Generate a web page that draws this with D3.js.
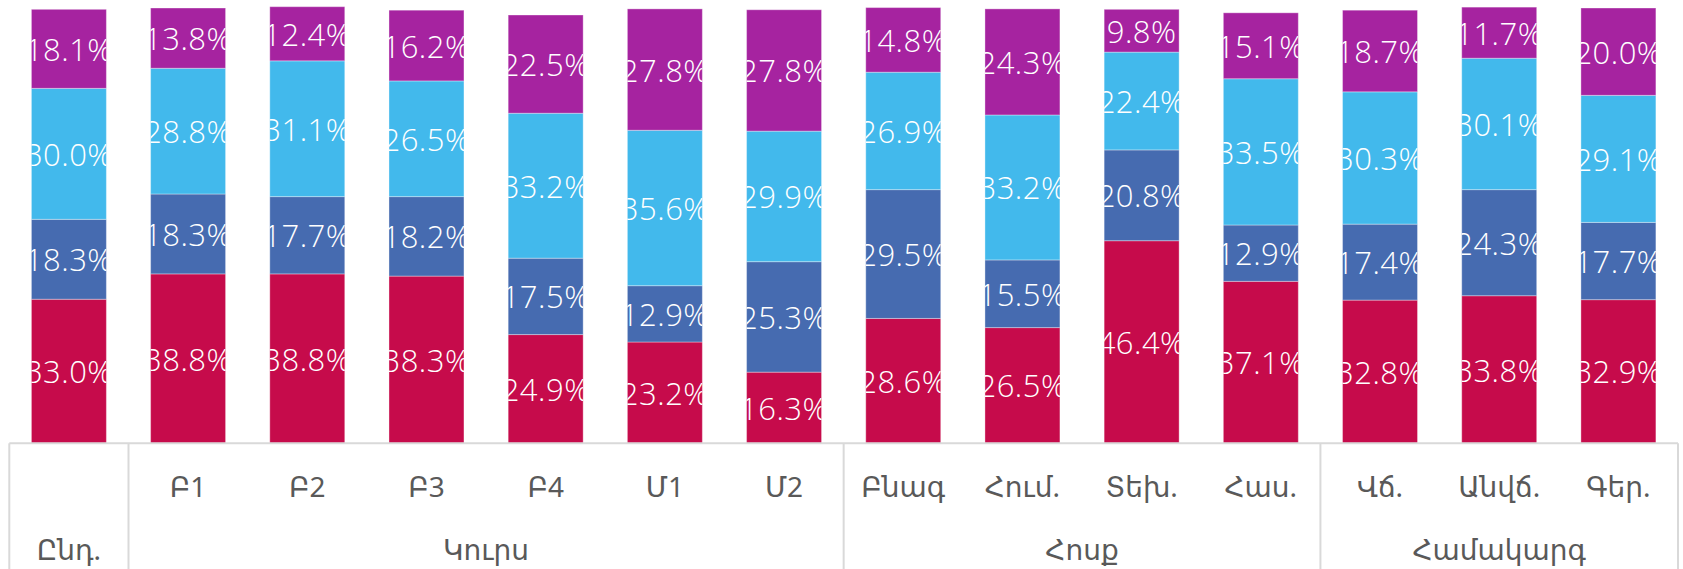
<!DOCTYPE html>
<html>
<head>
<meta charset="utf-8">
<script src="https://cdn.jsdelivr.net/npm/d3@7"></script>
<style>
  html, body { margin: 0; padding: 0; background: #ffffff; }
  svg { display: block; }
</style>
</head>
<body>
<svg id="chart" width="1683" height="569"></svg>
<script>
const categories = ["Ընդ.", "Բ1", "Բ2", "Բ3", "Բ4", "Մ1", "Մ2", "Բնագ", "Հում.", "Տեխ.", "Հաս.", "Վճ.", "Անվճ.", "Գեր."];
const groups = [
  { name: "", from: 0, to: 0 },
  { name: "Կուրս", from: 1, to: 6 },
  { name: "Հոսք", from: 7, to: 10 },
  { name: "Համակարգ", from: 11, to: 13 }
];
const groupTopLabel = "Ընդ.";
const seriesNames = ["s1", "s2", "s3", "s4"];
const s1 = [33.0, 38.8, 38.8, 38.3, 24.9, 23.2, 16.3, 28.6, 26.5, 46.4, 37.1, 32.8, 33.8, 32.9];
const s2 = [18.3, 18.3, 17.7, 18.2, 17.5, 12.9, 25.3, 29.5, 15.5, 20.8, 12.9, 17.4, 24.3, 17.7];
const s3 = [30.0, 28.8, 31.1, 26.5, 33.2, 35.6, 29.9, 26.9, 33.2, 22.4, 33.5, 30.3, 30.1, 29.1];
const s4 = [18.1, 13.8, 12.4, 16.2, 22.5, 27.8, 27.8, 14.8, 24.3, 9.8, 15.1, 18.7, 11.7, 20.0];
const colors = ["#C60B4B", "#466BB0", "#42B9EC", "#A623A0"];

const W = 1683, H = 569;
const left = 9.3, right = 1678, axisY = 443.3, topY = 6.7;

const rows = categories.map((c, i) => ({ cat: c, s1: s1[i], s2: s2[i], s3: s3[i], s4: s4[i] }));
const stack = d3.stack().keys(seriesNames)(rows);

const x = d3.scaleBand().domain(categories).range([left, right]).paddingInner(0.371).paddingOuter(0.1855);
const y = d3.scaleLinear().domain([0, 100]).range([axisY, topY]);

const svg = d3.select("#chart");
const defs = svg.append("defs");
categories.forEach((c, i) => {
  defs.append("clipPath").attr("id", "clip" + i)
    .append("rect")
    .attr("x", x(c)).attr("y", 0)
    .attr("width", x.bandwidth()).attr("height", H);
});

const layers = svg.append("g").selectAll("g").data(stack).join("g")
  .attr("fill", (d, i) => colors[i]);

layers.selectAll("rect").data(d => d).join("rect")
  .attr("x", d => x(d.data.cat))
  .attr("y", d => y(d[1]))
  .attr("width", x.bandwidth())
  .attr("height", d => y(d[0]) - y(d[1]))
  .attr("stroke", "rgba(255,255,255,0.35)")
  .attr("stroke-width", 1);

const labels = svg.append("g");
stack.forEach((layer) => {
  layer.forEach((d, i) => {
    labels.append("text")
      .attr("clip-path", "url(#clip" + i + ")")
      .attr("x", x(d.data.cat) + x.bandwidth() / 2)
      .attr("y", (y(d[0]) + y(d[1])) / 2)
      .attr("text-anchor", "middle")
      .attr("dominant-baseline", "central")
      .attr("fill", "#ffffff")
      .attr("font-family", "'Open Sans', Lato, sans-serif")
      .attr("font-weight", 300)
      .attr("font-size", 31)
      .attr("letter-spacing", 0.5)
      .text(d3.format(".1f")(d[1] - d[0]) + "%");
  });
});

// axis
const axis = svg.append("g").attr("stroke", "#D9D9D9").attr("stroke-width", 2);
axis.append("line").attr("x1", left).attr("x2", right).attr("y1", axisY).attr("y2", axisY);
const step = x.step();
const seps = [0, 1, 7, 11, 14].map(k => left + k * step);
seps.forEach(sx => {
  axis.append("line").attr("x1", sx).attr("x2", sx).attr("y1", axisY).attr("y2", H);
});

const tickG = svg.append("g")
  .attr("font-family", "'Noto Sans', 'DejaVu Sans', sans-serif")
  .attr("font-size", 28)
  .attr("fill", "#595959")
  .attr("text-anchor", "middle");

categories.forEach((c, i) => {
  if (i === 0) return;
  tickG.append("text")
    .attr("x", x(c) + x.bandwidth() / 2)
    .attr("y", 497)
    .text(c);
});
tickG.append("text")
  .attr("x", x(categories[0]) + x.bandwidth() / 2)
  .attr("y", 560)
  .text(groupTopLabel);
groups.forEach(g => {
  if (!g.name) return;
  const cx = (left + g.from * step + left + (g.to + 1) * step) / 2;
  tickG.append("text").attr("x", cx).attr("y", 560).text(g.name);
});
</script>
</body>
</html>
